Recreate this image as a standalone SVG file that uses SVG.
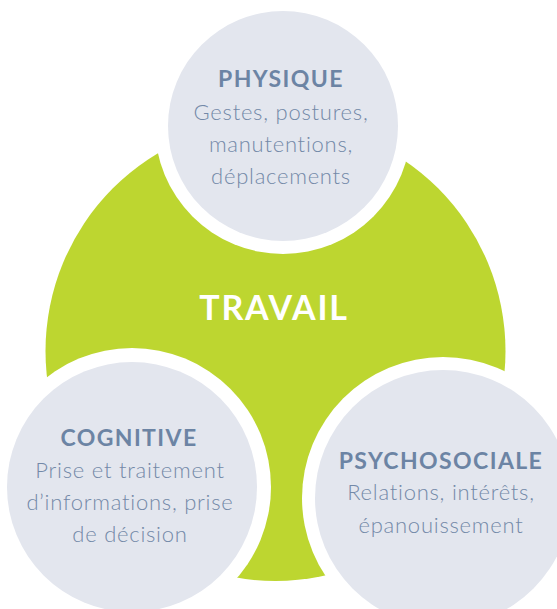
<svg xmlns="http://www.w3.org/2000/svg" width="557" height="609" viewBox="0 0 557 609">
<style>
.bg{fill:#ffffff}
.ring{fill:#ffffff}
.disc{fill:#e3e6ee}
.green{fill:#bdd630}
.head{font-family:Lato,"Open Sans","Liberation Sans",sans-serif;font-weight:700;font-size:23px;fill:#6c84a4;text-anchor:middle;letter-spacing:1.4px}
.body{font-family:Lato,"Open Sans","Liberation Sans",sans-serif;font-weight:300;font-size:22px;fill:#7389a8;text-anchor:middle;letter-spacing:0.75px}
.main{font-family:Lato,"Open Sans","Liberation Sans",sans-serif;font-weight:700;font-size:34px;fill:#ffffff;text-anchor:middle;letter-spacing:1.8px}
</style>
<rect class="bg" x="0" y="0" width="557" height="609"/>
<g id="travail">
<circle class="green" cx="275.5" cy="351" r="230"/>
<text class="main" x="274" y="320">TRAVAIL</text>
</g>
<g id="physique">
<circle class="ring" cx="283" cy="126" r="128"/>
<circle class="disc" cx="283" cy="126" r="115"/>
<text class="head" x="281" y="87">PHYSIQUE</text>
<text class="body" x="281" y="120">Gestes, postures,</text>
<text class="body" x="281" y="152">manutentions,</text>
<text class="body" x="281" y="184">déplacements</text>
</g>
<g id="cognitive">
<circle class="ring" cx="132" cy="487" r="139"/>
<circle class="disc" cx="132" cy="487" r="125"/>
<text class="head" x="129" y="446">COGNITIVE</text>
<text class="body" x="130" y="478">Prise et traitement</text>
<text class="body" x="130" y="510">d’informations, prise</text>
<text class="body" x="130" y="542">de décision</text>
</g>
<g id="psychosociale">
<circle class="ring" cx="443" cy="498" r="141"/>
<circle class="disc" cx="443" cy="498" r="128"/>
<text class="head" x="441" y="469">PSYCHOSOCIALE</text>
<text class="body" x="441" y="500">Relations, intérêts,</text>
<text class="body" x="441" y="533">épanouissement</text>
</g>
</svg>
